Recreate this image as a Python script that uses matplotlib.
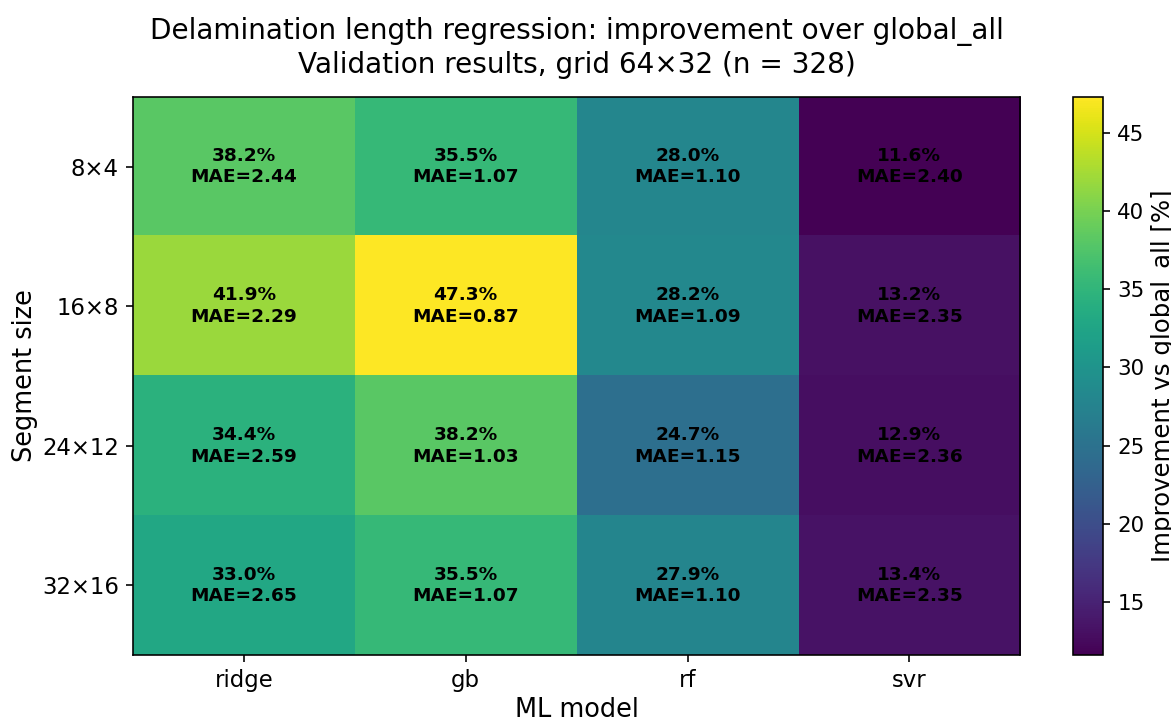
import numpy as np
from matplotlib import pyplot as plt

## DATA ##
models = ['ridge', 'gb', 'rf', 'svr']
segments = ['8×4', '16×8', '24×12', '32×16']
improvement = np.array([
    [38.2, 35.5, 28.0, 11.6],
    [41.9, 47.3, 28.2, 13.2],
    [34.4, 38.2, 24.7, 12.9],
    [33.0, 35.5, 27.9, 13.4],
])
mae = np.array([
    [2.44, 1.07, 1.10, 2.40],
    [2.29, 0.87, 1.09, 2.35],
    [2.59, 1.03, 1.15, 2.36],
    [2.65, 1.07, 1.10, 2.35],
])

### PLOT ###
fig = plt.figure(figsize=(8, 4.932), dpi=146.4)
ax = fig.add_axes([0.1136, 0.0928, 0.7575, 0.7729])
cax = fig.add_axes([0.9163, 0.0928, 0.0256, 0.7729])

im = ax.imshow(improvement, cmap='viridis', aspect='auto')
for i in range(len(segments)):
    for j in range(len(models)):
        ax.text(j, i, '%.1f%%\nMAE=%.2f' % (improvement[i, j], mae[i, j]),
                ha='center', va='center', fontsize=9.1, fontweight='bold',
                color='black', linespacing=1.25)

ax.set_xticks(range(len(models)))
ax.set_xticklabels(models, fontsize=11.2)
ax.set_yticks(range(len(segments)))
ax.set_yticklabels(segments, fontsize=11.2)
ax.set_xlabel('ML model', fontsize=12.6, labelpad=2.5)
ax.set_ylabel('Segment size', fontsize=12.6, labelpad=2)
ax.set_title('Delamination length regression: improvement over global_all\n'
             'Validation results, grid 64×32 (n = 328)', fontsize=13.7, pad=12)

cb = fig.colorbar(im, cax=cax)
cb.ax.tick_params(labelsize=10.5)
cb.set_label('Improvement vs global_all [%]', fontsize=12, labelpad=3)

plt.savefig('out.png', dpi=146.4)
